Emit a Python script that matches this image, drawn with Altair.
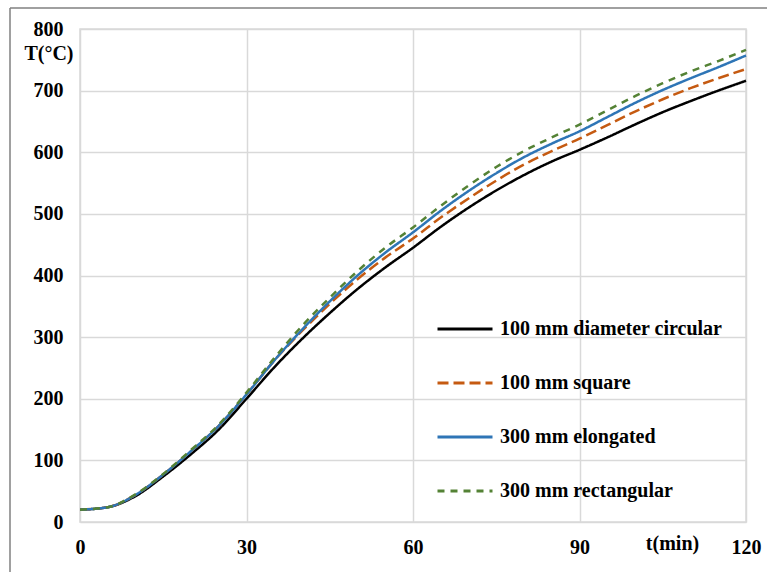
import altair as alt
import pandas as pd

t_min = [0, 5, 10, 15, 20, 25, 30, 35, 40, 45, 50, 55, 60, 65, 70, 75, 80, 85, 90, 95, 100, 105, 110, 115, 120]
circular = [20, 24, 42, 74, 110, 150, 200, 251, 297, 339, 378, 413, 445, 479, 510, 538, 563, 585, 604, 624, 645, 665, 683, 700, 716]
square = [20, 24, 44, 77, 115, 156, 207, 262, 310, 354, 394, 429, 460, 494, 525, 554, 580, 602, 622, 644, 666, 686, 704, 720, 735]
elongated = [20, 24, 44, 77, 115, 156, 207, 262, 312, 358, 400, 437, 470, 505, 537, 566, 592, 614, 634, 657, 680, 701, 720, 738, 757]
rectangular = [20, 24, 45, 78, 117, 158, 210, 266, 318, 364, 407, 445, 478, 513, 546, 576, 602, 624, 645, 668, 691, 712, 731, 748, 766]

series_names = ["100 mm diameter circular", "100 mm square", "300 mm elongated", "300 mm rectangular"]
series_values = [circular, square, elongated, rectangular]
colors = ["#000000", "#c55a11", "#2e75b6", "#548235"]
dashes = [[1, 0], [11, 5], [1, 0], [7, 6]]

x_ticks = [0, 30, 60, 90, 120]
y_ticks = [0, 100, 200, 300, 400, 500, 600, 700, 800]

rows = []
for k, (name, vals) in enumerate(zip(series_names, series_values)):
    for tt, vv in zip(t_min, vals):
        rows.append({"t": tt, "T": vv, "series": name, "k": k})
df = pd.DataFrame(rows)

FONT = "Liberation Serif"

legend_kw = dict(title=None, orient="none", legendX=356, legendY=271,
                 symbolType="stroke", symbolSize=3025, symbolStrokeWidth=3,
                 labelFont=FONT, labelFontSize=20, labelFontWeight="bold",
                 labelColor="#000000", labelOffset=6, rowPadding=15, padding=0,
                 labelLimit=0)

lines = alt.Chart(df).mark_line(strokeWidth=2.5, interpolate="monotone").encode(
    x=alt.X("t:Q", scale=alt.Scale(domain=[0, 120], nice=False),
            axis=alt.Axis(values=x_ticks, title="t(min)", titleX=592, titleY=21,
                          titleAlign="center", titleBaseline="middle", labelPadding=15)),
    y=alt.Y("T:Q", scale=alt.Scale(domain=[0, 800], nice=False),
            axis=alt.Axis(values=y_ticks, title="T(°C)", titleAngle=0, titleX=-7, titleY=24,
                          titleAlign="right", titleBaseline="middle", labelPadding=17)),
    color=alt.Color("series:N", scale=alt.Scale(domain=series_names, range=colors),
                    legend=alt.Legend(**legend_kw)),
    strokeDash=alt.StrokeDash("series:N", scale=alt.Scale(domain=series_names, range=dashes),
                              legend=alt.Legend(**legend_kw)),
    detail="series:N",
    order="k:Q",
)

frame_df = pd.DataFrame({"a": [0]})
top_rule = alt.Chart(frame_df).mark_rule(color="#808080", strokeWidth=1.5).encode(
    x=alt.value(-70), x2=alt.value(700), y=alt.value(-21))
left_rule = alt.Chart(frame_df).mark_rule(color="#808080", strokeWidth=1.5).encode(
    x=alt.value(-70), y=alt.value(-21), y2=alt.value(560))

chart = alt.layer(top_rule, left_rule, lines).properties(
    width=666, height=493,
    autosize=alt.AutoSizeParams(type="none"),
    padding={"left": 80, "top": 29, "right": 21, "bottom": 50},
    background="#ffffff",
).configure_view(stroke="#d9d9d9", strokeWidth=1.5).configure_axis(
    domain=False, ticks=False, grid=True, gridColor="#d9d9d9", gridWidth=1.5,
    labelFont=FONT, labelFontSize=20, labelFontWeight="bold", labelColor="#000000",
    labelFlush=False, labelOverlap=False,
    titleFont=FONT, titleFontSize=20, titleFontWeight="bold", titleColor="#000000",
)

chart.save("out.html", embed_options={"renderer": "svg", "actions": False})
